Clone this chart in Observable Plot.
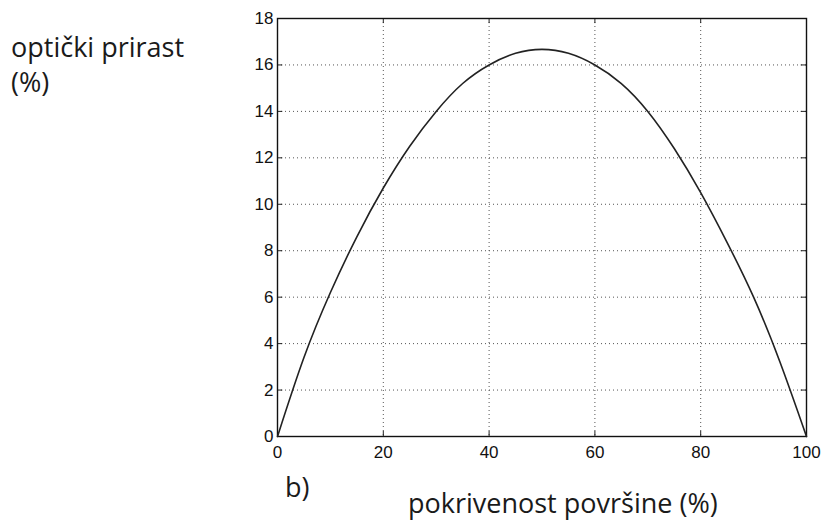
<!DOCTYPE html>
<html>
<head>
<meta charset="utf-8">
<script src="https://cdn.jsdelivr.net/npm/d3@7"></script>
<script src="https://cdn.jsdelivr.net/npm/@observablehq/plot@0.6"></script>
<style>
  html, body { margin: 0; padding: 0; background: #fff; }
  #wrap { position: relative; width: 823px; height: 522px; }
  .lbl { position: absolute; font-family: "Open Sans", "Noto Sans", sans-serif; font-size: 27px; color: #1a1a1a; line-height: 35px; white-space: nowrap; }
</style>
</head>
<body>
<div id="wrap">
  <div class="lbl" style="left:11px; top:29px;">optički prirast<br>(%)</div>
  <div class="lbl" style="left:285px; top:469px;">b)</div>
  <div class="lbl" style="left:408px; top:485px;">pokrivenost površine (%)</div>
</div>
<script>
// coverage (%)
const coverage = [0, 5, 10, 15, 20, 25, 30, 35, 40, 45, 50, 55, 60, 65, 70, 75, 80, 85, 90, 95, 100];
// optical gain (%)
const gain =     [0, 3.4, 6.2, 8.6, 10.7, 12.5, 14.0, 15.2, 16.0, 16.5, 16.67, 16.5, 16.0, 15.2, 14.0, 12.4, 10.5, 8.35, 6.0, 3.2, 0];
const xTicks = [0, 20, 40, 60, 80, 100];
const yTicks = [0, 2, 4, 6, 8, 10, 12, 14, 16, 18];

const data = coverage.map((c, i) => ({c, g: gain[i]}));
const font = "Liberation Sans, Arial, sans-serif";

const chart = Plot.plot({
  width: 823,
  height: 522,
  marginLeft: 277,
  marginRight: 17,
  marginTop: 18,
  marginBottom: 86,
  style: {fontFamily: font, fontSize: "17px", color: "#111", background: "transparent"},
  x: {domain: [0, 100]},
  y: {domain: [0, 18]},
  marks: [
    Plot.ruleX(xTicks, {x: d => d, stroke: "#555", strokeWidth: 1, strokeDasharray: "1,3"}),
    Plot.ruleY(yTicks, {y: d => d, stroke: "#555", strokeWidth: 1, strokeDasharray: "1,3"}),
    Plot.axisX(xTicks, {anchor: "bottom", tickSize: 0, tickPadding: 9, label: null, fontSize: 17}),
    Plot.axisY(yTicks, {anchor: "left", tickSize: 0, tickPadding: 4, label: null, fontSize: 17}),
    Plot.ruleX(xTicks, {x: d => d, y1: 0, y2: 0.22, stroke: "#222"}),
    Plot.ruleX(xTicks, {x: d => d, y1: 17.78, y2: 18, stroke: "#222"}),
    Plot.ruleY(yTicks, {y: d => d, x1: 0, x2: 1, stroke: "#222"}),
    Plot.ruleY(yTicks, {y: d => d, x1: 99, x2: 100, stroke: "#222"}),
    Plot.frame({stroke: "#111", strokeWidth: 1.4}),
    Plot.line(data, {x: "c", y: "g", curve: "natural", stroke: "#222", strokeWidth: 1.6})
  ]
});
document.getElementById("wrap").prepend(chart);
chart.style.position = "absolute";
chart.style.left = "0px";
chart.style.top = "0px";
</script>
</body>
</html>
